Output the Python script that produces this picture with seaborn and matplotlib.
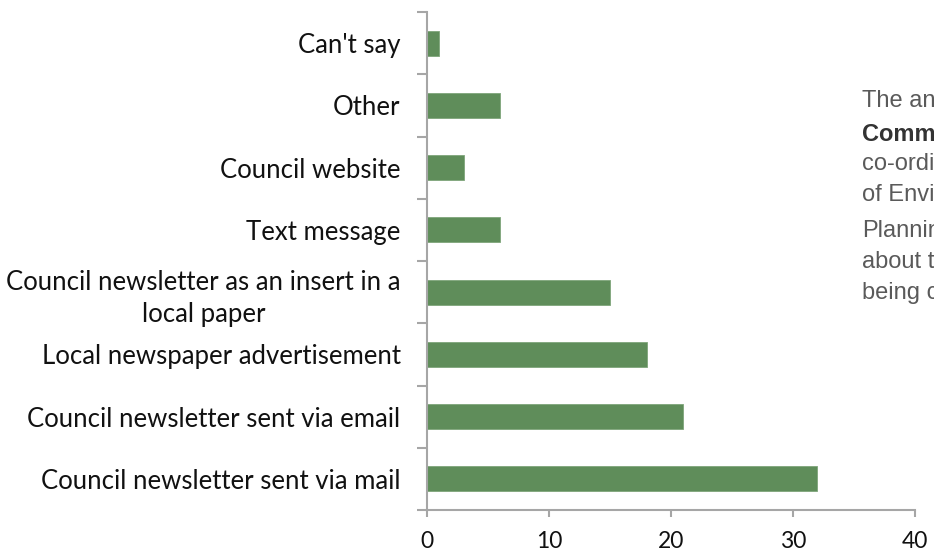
import matplotlib
matplotlib.use("Agg")
import matplotlib.pyplot as plt
import seaborn as sns
import pandas as pd
from matplotlib.ticker import FixedLocator

categories = [
    "Can't say",
    "Other",
    "Council website",
    "Text message",
    "Council newsletter as an insert in a\nlocal paper",
    "Local newspaper advertisement",
    "Council newsletter sent via email",
    "Council newsletter sent via mail",
]
values = [1, 6, 3, 6, 15, 18, 21, 32]
x_ticks = [0, 10, 20, 30, 40]
side_lines = ["The annual", "Community", "co-ordinator", "of Environment",
              "Planning", "about the", "being consulted"]

sns.set_style("white")
plt.rcParams["font.family"] = ["Lato", "DejaVu Sans"]

W, H = 934, 553
fig = plt.figure(figsize=(W / 100, H / 100), dpi=100)
ax = fig.add_axes([427 / W, (H - 510) / H, (915 - 427) / W, (510 - 12) / H])

df = pd.DataFrame({"category": categories, "value": values})
bar_color = "#5f8d5a"
sns.barplot(data=df, y="category", x="value", orient="h", color=bar_color,
            width=0.4, saturation=1, edgecolor="#7fa57a", linewidth=0.6, ax=ax)

ax.set_xlim(0, 40)
ax.set_ylim(len(categories) - 0.5, -0.5)
ax.set_xlabel("")
ax.set_ylabel("")

spine_col = "#a6a6a6"
for s in ["top", "right"]:
    ax.spines[s].set_visible(False)
for s in ["left", "bottom"]:
    ax.spines[s].set_color(spine_col)
    ax.spines[s].set_linewidth(1.5)

ax.set_xticks(x_ticks)
ax.set_xticklabels([str(t) for t in x_ticks])
ax.tick_params(axis="x", which="major", direction="out", length=5, width=1.5,
               color=spine_col, pad=10, labelsize=16.5, labelcolor="#111111",
               bottom=True)

ax.set_yticks(range(len(categories)))
ax.set_yticklabels(categories, multialignment="center", linespacing=1.35)
ax.tick_params(axis="y", which="major", length=0, pad=19, labelsize=18.5,
               labelcolor="#111111", left=True)
ax.yaxis.set_minor_locator(FixedLocator([i - 0.5 for i in range(len(categories) + 1)]))
ax.tick_params(axis="y", which="minor", direction="out", length=7, width=1.5,
               color=spine_col, left=True)
ax.grid(False)

# side text (cut off by the figure edge, as in the original page)
side_y = [101, 134, 164, 195, 231, 262, 293]
for i, line in enumerate(side_lines):
    fig.text(862 / W, 1 - side_y[i] / H, line, fontsize=17,
             family=["Liberation Sans", "DejaVu Sans"],
             fontweight="bold" if i == 1 else "normal",
             color="#333333" if i == 1 else "#5a5a5a",
             ha="left", va="center")

fig.savefig("out.png", dpi=100)
